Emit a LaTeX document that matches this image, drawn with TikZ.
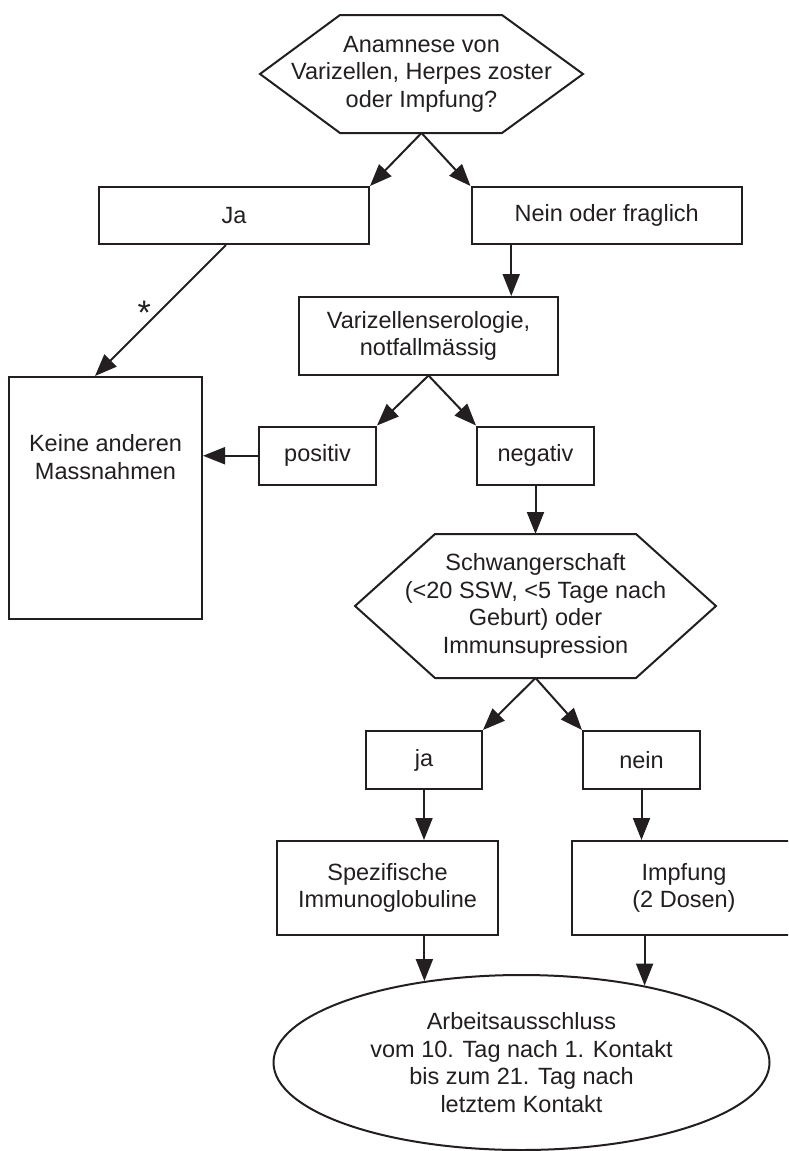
\documentclass[tikz,border=0pt]{standalone}
\usepackage{fontspec}
\setmainfont{Liberation Sans}
\usetikzlibrary{arrows.meta,shapes.geometric,calc}
\definecolor{ink}{HTML}{231F20}
\begin{document}
\begin{tikzpicture}[x=1pt,y=-1pt,
  every node/.style={font=\fontsize{23.5}{27.5}\selectfont, text=ink, align=center},
  box/.style={draw=ink, line width=2pt, inner sep=0pt},
  line/.style={draw=ink, line width=2pt},
  arr/.style={draw=ink, line width=2pt, -{Triangle[length=22pt,width=17pt]}}]
\path[use as bounding box] (0,0) rectangle (788,1151);
\clip (0,0) rectangle (788,1151);
\fill[white] (0,0) rectangle (788,1151);

% top question hexagon
\draw[line] (260,74) -- (340,15) -- (502,15) -- (583,74) -- (502,133) -- (340,133) -- cycle;
\node (q1) at (421.5,74) {Anamnese von\\Varizellen, Herpes zoster\\oder Impfung?};
\coordinate (q1b) at (421.5,133);

\node[box, minimum width=270pt, minimum height=57pt] (ja1) at (234,215.5) {Ja};
\node[box, minimum width=270.5pt, minimum height=57pt] (nein1) at (606.75,215.5) {Nein oder fraglich};
\node[box, minimum width=259pt, minimum height=77.5pt] (var) at (428.5,335.75) {Varizellenserologie,\\notfallmässig};
\node[box, minimum width=193pt, minimum height=242pt] (keine) at (105.5,498) {};
\node (keinetxt) at (105.5,457) {Keine anderen\\Massnahmen};
\node[box, minimum width=117pt, minimum height=58.5pt] (pos) at (317.5,455.75) {positiv};
\node[box, minimum width=117pt, minimum height=58.5pt] (neg) at (535.5,455.75) {negativ};

% second hexagon
\draw[line] (355,606) -- (435,534) -- (636,534) -- (716,606) -- (636,678) -- (435,678) -- cycle;
\node (q2) at (535.5,606) {Schwangerschaft\\(<20 SSW, <5 Tage nach\\Geburt) oder\\Immunsupression};
\coordinate (q2t) at (535.5,534);
\coordinate (q2b) at (535.5,678);

\node[box, minimum width=116pt, minimum height=58pt] (ja2) at (424,760) {ja};
\node[box, minimum width=117pt, minimum height=58pt] (nein2) at (641.5,760) {nein};
\node[box, minimum width=221pt, minimum height=94pt] (spez) at (387.5,888) {Spezifische\\Immunoglobuline};
\node[box, minimum width=225pt, minimum height=94pt] (impf) at (684,888) {Impfung\\(2 Dosen)};
\node[box, ellipse, minimum width=496pt, minimum height=175pt] (ell) at (521.5,1062.5) {Arbeitsausschluss\\vom 10. Tag nach 1. Kontakt\\bis zum 21. Tag nach\\letztem Kontakt};

% connectors
\draw[arr] (q1b) -- (ja1.north east);
\draw[arr] (q1b) -- (nein1.north west);
\draw[arr] ([xshift=-8pt]ja1.south) -- ([xshift=-10.5pt]keine.north);
\node[anchor=base, font=\fontsize{34}{34}\selectfont] (ast) at (144.3,324) {*};
\draw[arr] ([xshift=-95.5pt]nein1.south) -- ([xshift=-95.5pt]nein1.south |- var.north);
\draw[arr] (var.south) -- (pos.north east);
\draw[arr] (var.south) -- (neg.north west);
\draw[arr] (pos.west) -- (pos.west -| keine.east);
\draw[arr] (neg.south) -- (q2t);
\draw[arr] (q2b) -- (ja2.north east);
\draw[arr] (q2b) -- (nein2.north west);
\draw[arr] (ja2.south) -- (ja2.south |- spez.north);
\draw[arr] (nein2.south) -- (nein2.south |- impf.north);
\draw[arr] (ell.140.8 |- spez.south) -- (ell.140.8);
\draw[arr] (ell.32.1 |- impf.south) -- (ell.32.1);
\end{tikzpicture}
\end{document}
